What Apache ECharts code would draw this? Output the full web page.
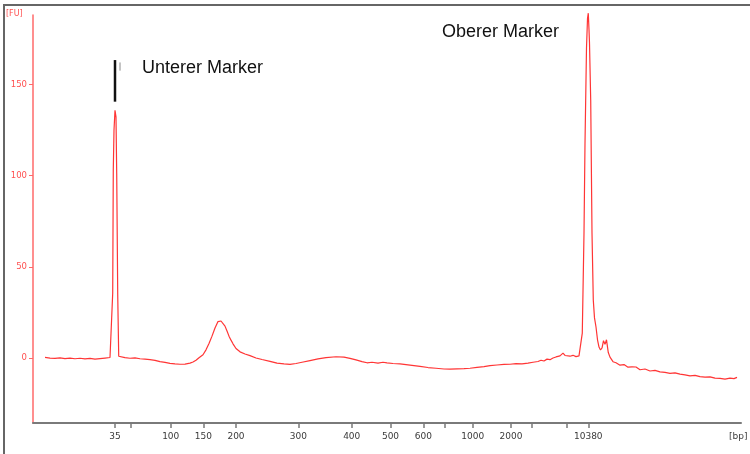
<!DOCTYPE html>
<html>
<head>
<meta charset="utf-8">
<title>Elektropherogramm</title>
<script src="https://cdn.jsdelivr.net/npm/echarts@6/dist/echarts.min.js"></script>
<style>
  html, body { margin: 0; padding: 0; background: #fff; }
  #chart { width: 750px; height: 454px; }
</style>
</head>
<body>
<div id="chart"></div>
<script>
// Ladder: fragment size (bp) and its migration time (s)
const ladderBp = ['35', '50', '100', '150', '200', '300', '400', '500', '600', '700', '1000', '2000', '3000', '7000', '10380'];
const ladderTime = [42.98, 45.22, 50.78, 55.34, 59.92, 68.64, 76.12, 81.55, 86.14, 89.08, 93.06, 98.42, 101.32, 106.22, 109.24];
// Sizes that get a printed label (others only get a tick)
const labelledBp = ['35', '100', '150', '200', '300', '400', '500', '600', '1000', '2000', '10380'];

// Fluorescence axis ticks
const fuTicks = [0, 50, 100, 150];

// Sample trace: [migration time (s), fluorescence (FU)]
const trace = [
  [33.18, 0.4], [33.88, 0.0], [34.58, -0.2], [35.28, 0.1], [35.98, -0.3], [36.68, 0.0],
  [37.38, -0.4], [38.08, -0.1], [38.78, -0.5], [39.48, -0.2], [40.18, -0.6], [40.88, -0.3],
  [41.58, 0.0], [42.28, 0.3], [42.52, 0.6],
  // lower marker (35 bp)
  [42.66, 35.6], [42.74, 103], [42.84, 125], [42.98, 135.8], [43.12, 132], [43.22, 101],
  [43.36, 35], [43.50, 1.0], [43.68, 0.0],
  [44.38, 0.2], [45.08, -0.1], [45.78, 0.1], [46.48, -0.4], [47.18, -0.6], [47.88, -0.9],
  [48.58, -1.3], [49.28, -2.0], [49.98, -2.4], [50.68, -2.9], [51.38, -3.2], [52.08, -3.4],
  [52.78, -3.3], [53.48, -2.8], [53.90, -2.2], [54.32, -1.2], [54.74, 0.2],
  // library peak
  [55.30, 1.8], [55.72, 4.5], [56.14, 8.0], [56.56, 12.0], [56.98, 16.5], [57.40, 20.0],
  [57.61, 21.0], [57.82, 20.3], [58.10, 19.4], [58.38, 17.5], [58.66, 14.8], [58.94, 12.0],
  [59.22, 9.8], [59.50, 7.8], [59.92, 5.2], [60.48, 3.4], [61.18, 2.2], [61.88, 1.3],
  [62.72, 0.0], [63.56, -0.8], [64.68, -1.8], [65.66, -2.8], [66.64, -3.2], [67.48, -3.5],
  [68.32, -3.0], [69.16, -2.3], [70.28, -1.4], [71.40, -0.5], [72.52, 0.2], [73.92, 0.7],
  [75.04, 0.5], [75.88, -0.2], [76.72, -1.0], [77.56, -2.0], [78.26, -2.6], [78.96, -2.3],
  [79.80, -2.8], [80.50, -2.3], [81.06, -2.6], [81.90, -3.0], [82.88, -3.2], [83.72, -3.6],
  [84.56, -4.0], [85.68, -4.6], [86.80, -5.2], [87.92, -5.6], [89.04, -6.0], [89.88, -6.1],
  [90.86, -5.9], [91.84, -5.8], [92.68, -5.6], [93.66, -5.1], [94.64, -4.7], [95.48, -4.2],
  [96.46, -3.8], [97.44, -3.5], [98.28, -3.4], [99.12, -3.1], [99.96, -3.2], [100.80, -2.8],
  [101.50, -2.3], [102.20, -1.9], [102.62, -1.2], [103.04, -1.6], [103.46, -0.6], [103.88, -0.9],
  [104.30, 0.0], [104.72, 0.6], [105.00, 0.2], [105.28, 1.2], [105.70, 2.7], [105.98, 1.4],
  [106.26, 1.9], [106.68, 1.0], [107.10, 1.5], [107.52, 0.8], [107.94, 1.2],
  // upper marker (10380 bp)
  [108.18, 2.0], [108.40, 13.7], [108.64, 68.5], [108.78, 117.7], [108.99, 170], [109.13, 186],
  [109.24, 189], [109.34, 180], [109.41, 172.5], [109.58, 141.3], [109.76, 68.5], [109.94, 31.8],
  [110.11, 22], [110.32, 17], [110.53, 10], [110.74, 6], [110.95, 4.4], [111.16, 5.5],
  [111.37, 9.5], [111.58, 7.5], [111.79, 10.0], [112.04, 3.0], [112.28, 0.5], [112.70, -2.0],
  [113.12, -2.6], [113.68, -3.9], [114.24, -3.6], [114.80, -5.0], [115.36, -4.8], [115.92, -4.9],
  [116.48, -6.4], [117.18, -6.0], [117.88, -7.1], [118.58, -6.8], [119.28, -7.6], [119.98, -7.9],
  [120.68, -8.4], [121.38, -8.1], [122.08, -8.8], [122.78, -9.2], [123.48, -9.8], [124.18, -9.5],
  [124.88, -10.2], [125.58, -10.5], [126.28, -10.3], [126.98, -11.0], [127.68, -11.1],
  [128.38, -11.6], [129.08, -11.0], [129.64, -11.3], [130.06, -10.6]
];

// Marker bracket above the lower marker peak
const lowerMarkerBar = [[42.98, 140.5], [42.98, 163.3]];
const lowerMarkerTick = [[43.68, 157.5], [43.68, 162.0]];

const chart = echarts.init(document.getElementById('chart'), null, { renderer: 'canvas' });

function bpLabel(v) {
  for (let i = 0; i < ladderTime.length; i++) {
    if (Math.abs(ladderTime[i] - v) < 1e-6) {
      return labelledBp.indexOf(ladderBp[i]) >= 0 ? ladderBp[i] : '';
    }
  }
  return '';
}

chart.setOption({
  animation: false,
  backgroundColor: '#ffffff',
  grid: { left: 33, right: 9, top: 15, bottom: 31, containLabel: false },
  xAxis: {
    type: 'value',
    min: 31.5,
    max: 130.62,
    axisLine: { show: true, onZero: false, lineStyle: { color: '#7a7a7a', width: 2 } },
    axisTick: { show: true, customValues: ladderTime, length: 5, lineStyle: { color: '#7a7a7a', width: 1.5 } },
    axisLabel: {
      show: true,
      customValues: ladderTime,
      formatter: bpLabel,
      margin: 9,
      color: '#3a3a3a',
      fontFamily: 'DejaVu Sans',
      fontSize: 9
    },
    splitLine: { show: false }
  },
  yAxis: {
    type: 'value',
    min: -35.6,
    max: 188,
    axisLine: { show: true, onZero: false, lineStyle: { color: '#ff6a6a', width: 1.5 } },
    axisTick: { show: true, customValues: fuTicks, length: 4, lineStyle: { color: '#ff6a6a', width: 1 } },
    axisLabel: {
      show: true,
      customValues: fuTicks,
      margin: 6,
      color: '#ff5050',
      fontFamily: 'DejaVu Sans',
      fontSize: 8.5
    },
    splitLine: { show: false }
  },
  series: [
    {
      type: 'line',
      data: trace,
      showSymbol: false,
      symbol: 'none',
      clip: false,
      lineStyle: { color: '#ff3535', width: 1.2 },
      silent: true
    },
    {
      type: 'line',
      data: lowerMarkerBar,
      symbol: 'none',
      clip: false,
      lineStyle: { color: '#111111', width: 2.5 },
      silent: true
    },
    {
      type: 'line',
      data: lowerMarkerTick,
      symbol: 'none',
      clip: false,
      lineStyle: { color: '#8a8a8a', width: 1 },
      silent: true
    }
  ],
  graphic: [
    {
      type: 'polyline',
      shape: { points: [[4, 454], [4, 5], [750, 5]] },
      style: { stroke: '#666666', lineWidth: 2, fill: null },
      silent: true
    },
    {
      type: 'text', left: 6, top: 10,
      style: { text: '[FU]', fill: '#ff5050', font: '8px "DejaVu Sans"' }
    },
    {
      type: 'text', left: 729, top: 432,
      style: { text: '[bp]', fill: '#3a3a3a', font: '9px "DejaVu Sans"' }
    },
    {
      type: 'text', left: 142, top: 59,
      style: { text: 'Unterer Marker', fill: '#111111', font: '18px "Liberation Sans", Arial, sans-serif' }
    },
    {
      type: 'text', left: 442, top: 23,
      style: { text: 'Oberer Marker', fill: '#111111', font: '18px "Liberation Sans", Arial, sans-serif' }
    }
  ]
});
</script>
</body>
</html>
